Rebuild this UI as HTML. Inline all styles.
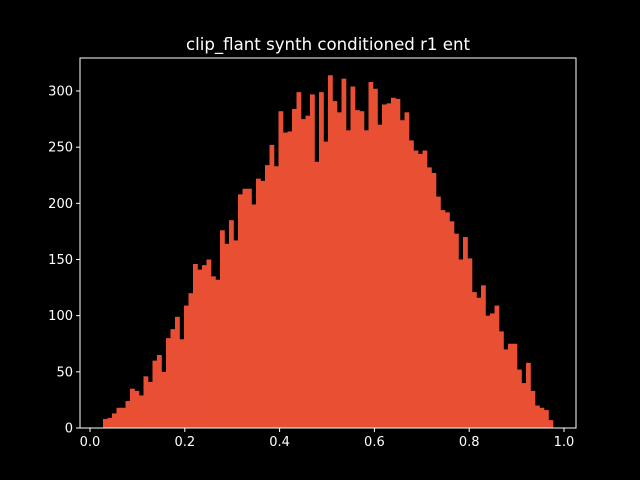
<!DOCTYPE html>
<html><head><meta charset="utf-8"><style>
html,body{margin:0;padding:0;background:#000;width:640px;height:480px;overflow:hidden}
svg{display:block}
text{font-family:"DejaVu Sans","Liberation Sans",sans-serif;fill:#fff}
</style></head><body>
<svg id="chart" width="640" height="480" xmlns="http://www.w3.org/2000/svg">
<rect x="0" y="0" width="640" height="480" fill="#000"/>
<text x="328" y="50" font-size="16.6" text-anchor="middle">clip_flant synth conditioned r1 ent</text>
<g id="bars"></g>
<g id="axes"></g>
</svg>
<script>
const counts = [8,9,13,18,18,24,35,33,29,46,41,60,65,50,80,88,99,79,109,120,
146,141,145,150,135,132,176,164,185,167,208,213,213,199,222,220,234,252,233,282,
263,264,284,299,275,278,297,237,299,255,314,291,281,311,265,304,283,282,265,308,
302,270,288,289,294,293,274,281,256,247,244,247,232,227,206,194,192,184,173,150,
170,151,121,116,127,100,102,109,86,70,75,75,52,40,58,33,20,18,16,7];
const binStart = 0.0274, binEnd = 0.9768;
const xTicks = [0.0,0.2,0.4,0.6,0.8,1.0];
const xTickLabels = ["0.0","0.2","0.4","0.6","0.8","1.0"];
const yTicks = [0,50,100,150,200,250,300];

const L=80,R=576,T=58,B=428;
const xs = v => 90 + v*474;
const ys = v => B - v*(337/300);
const NS="http://www.w3.org/2000/svg";
const bars=document.getElementById('bars'), axes=document.getElementById('axes');
const w=(binEnd-binStart)/counts.length;
counts.forEach((c,i)=>{
  const r=document.createElementNS(NS,'rect');
  const x0=xs(binStart+i*w), x1=xs(binStart+(i+1)*w);
  r.setAttribute('x',x0); r.setAttribute('width',x1-x0+0.3);
  r.setAttribute('y',ys(c)); r.setAttribute('height',B-ys(c));
  r.setAttribute('fill','#e84f33');
  
  
  bars.appendChild(r);
});
function el(tag,attrs,parent){const e=document.createElementNS(NS,tag);for(const k in attrs)e.setAttribute(k,attrs[k]);parent.appendChild(e);return e;}
const frame=el('rect',{x:L,y:T,width:R-L,height:B-T,fill:'none',stroke:'#fff','stroke-width':1},axes);


xTicks.forEach((v,i)=>{
  const x=xs(v);
  const t=el('line',{x1:x,x2:x,y1:B,y2:B+4,stroke:'#fff'},axes);
  
  
  const lb=el('text',{x:x,y:B+18,'font-size':13,'text-anchor':'middle'},axes);
  lb.textContent=xTickLabels[i];
  
  
});
yTicks.forEach(v=>{
  const y=ys(v);
  const t=el('line',{x1:L-4,x2:L,y1:y,y2:y,stroke:'#fff'},axes);
  
  
  const lb=el('text',{x:L-7,y:y+4.5,'font-size':13,'text-anchor':'end'},axes);
  lb.textContent=String(v);
  
  
});
</script>
</body></html>
